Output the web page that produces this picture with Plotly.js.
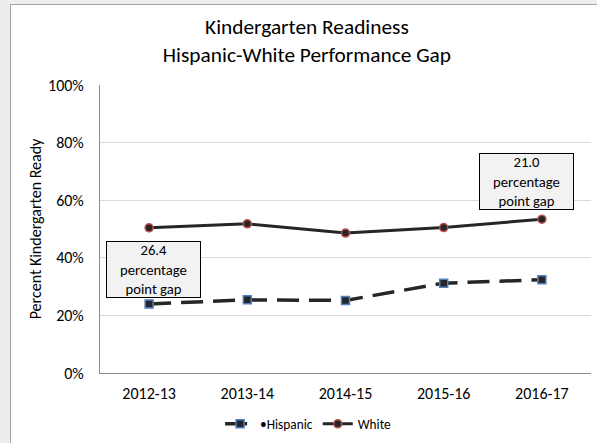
<!DOCTYPE html>
<html><head><meta charset="utf-8">
<script src="https://cdn.plot.ly/plotly-3.0.1.min.js"></script>
<style>
html,body{margin:0;padding:0;background:#efedec;width:597px;height:443px;overflow:hidden;}
#chart{position:absolute;left:10px;top:4px;width:586px;height:438px;border-left:1px solid #a6a6a6;border-top:1px solid #a6a6a6;background:#fff;}
</style></head>
<body><div id="chart"></div>
<script>
const years = ["2012-13","2013-14","2014-15","2015-16","2016-17"];
const hispanic = [24.0, 25.4, 25.2, 31.2, 32.4];
const white = [50.4, 51.8, 48.6, 50.5, 53.4];
const yTicks = [0,20,40,60,80,100];
const yTickText = ["0%","20%","40%","60%","80%","100%"];
const gapNotes = ["26.4<br>percentage<br>point gap","21.0<br>percentage<br>point gap"];
const F = "Carlito, Lato, sans-serif";

const traces = [
 {x: years, y: hispanic, name: "•Hispanic", type: "scatter", mode: "lines+markers",
  line: {color: "#262626", width: 3.5, dash: "22px,10px"},
  marker: {symbol: "square", size: 8, color: "#262626", line: {color: "#4f81bd", width: 1.5}}},
 {x: years, y: white, name: "White", type: "scatter", mode: "lines+markers",
  line: {color: "#262626", width: 3},
  marker: {symbol: "circle", size: 8, color: "#262626", line: {color: "#c0504d", width: 1.5}}}
];

const layout = {
 width: 586, height: 438,
 margin: {l: 89, r: 6, t: 80, b: 70},
 paper_bgcolor: "#ffffff", plot_bgcolor: "#ffffff",
 font: {family: F, color: "#000000", size: 16},
 title: {text: "Kindergarten Readiness<br>Hispanic-White Performance Gap",
   font: {family: F, size: 21.33, color: "#000000"}, x: 0.505, xanchor: "center",
   y: 0.934, yanchor: "middle", yref: "container"},
 showlegend: true,
 legend: {orientation: "h", x: 0.507, xanchor: "center", xref: "container",
   y: 0.043, yanchor: "middle", yref: "container", itemwidth: 30,
   font: {family: F, size: 13.33}},
 xaxis: {type: "category", range: [-0.5, 4.5], showgrid: false, zeroline: false,
   showline: true, linecolor: "#8c8c8c", linewidth: 1, ticks: "", ticklabelstandoff: 6,
   tickfont: {family: F, size: 16}},
 yaxis: {range: [0, 100], tickvals: yTicks, ticktext: yTickText, showgrid: true,
   gridcolor: "#d9d9d9", gridwidth: 1, zeroline: false, showline: true,
   linecolor: "#8c8c8c", linewidth: 1, ticks: "", ticklabelstandoff: 12,
   tickfont: {family: F, size: 16},
   title: {text: "Percent Kindergarten Ready", font: {family: F, size: 16}, standoff: 2}},
 annotations: [
  {x: 0.04, y: 35.8, xref: "x", yref: "y", text: gapNotes[0], showarrow: false,
   font: {family: F, size: 14.67}, bgcolor: "#f2f2f2", bordercolor: "#000000",
   borderwidth: 1, width: 91, height: 53, borderpad: 1, align: "center"},
  {x: 3.84, y: 66.4, xref: "x", yref: "y", text: gapNotes[1], showarrow: false,
   font: {family: F, size: 14.67}, bgcolor: "#f2f2f2", bordercolor: "#000000",
   borderwidth: 1, width: 91, height: 53, borderpad: 1, align: "center"}
 ]
};
Plotly.newPlot("chart", traces, layout, {displayModeBar: false, staticPlot: true});
</script></body></html>
